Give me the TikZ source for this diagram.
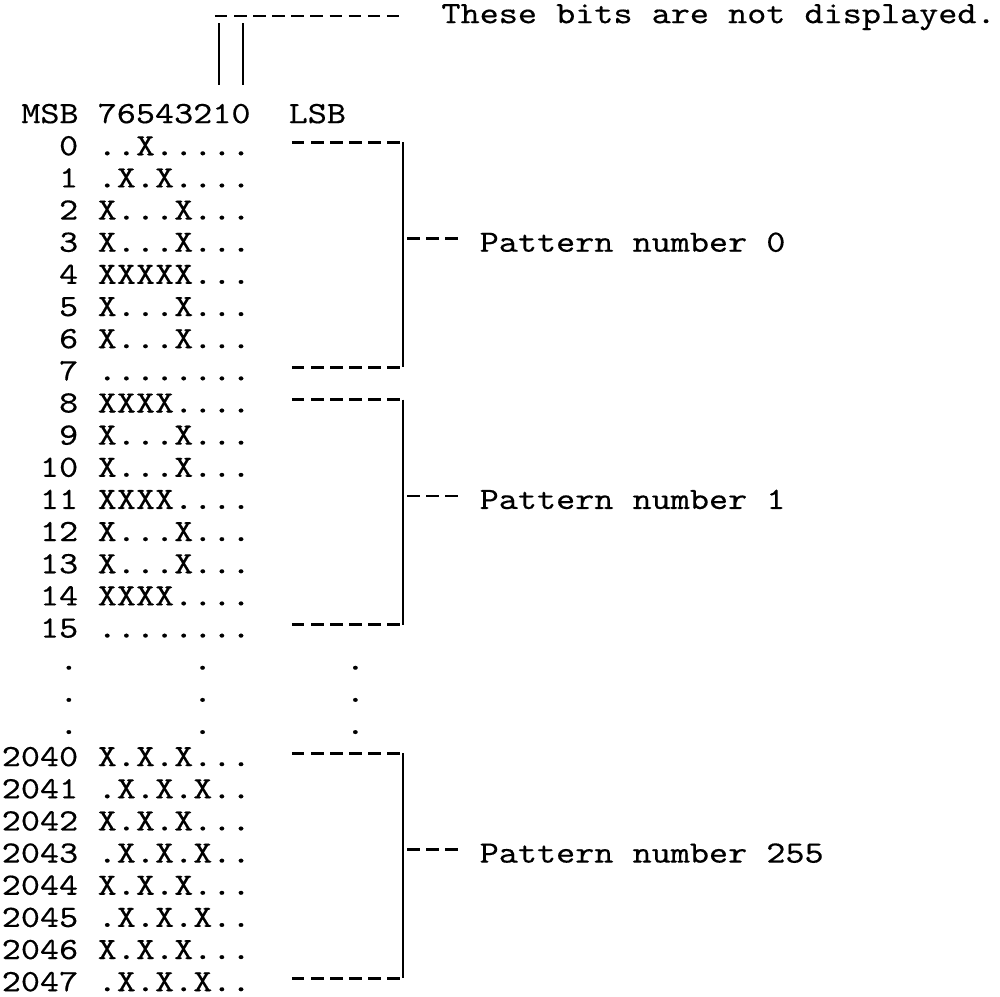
\documentclass[tikz,border=0pt]{standalone}
\usepackage{tikz}
\font\typer="[lmmono10-regular]:extend=1.174;embolden=0.35" at 31pt

\begin{document}
\begin{tikzpicture}[x=19.1pt,y=-32.15pt,
  typed/.style={inner sep=0pt,font=\typer},
  typedash/.style={line width=2.8pt,dash pattern=on 12.5pt off 6.6pt},
  rule/.style={line width=2pt}]
\useasboundingbox (-0.105,-3.83) rectangle (52.25,27.18);
% header line
\node[typed,anchor=base west] (msb) at (1,0) {MSB};
\node[typed,anchor=base west] (bits) at (5,0) {76543210};
\node[typed,anchor=base west] (lsb) at (15,0) {LSB};
% hidden bits 1 and 0
\node[typed,anchor=base west] (note) at (23,-3.11) {These bits are not displayed.};
\coordinate (hide0) at (11.15,-3.33);
\coordinate (hide1) at (20.94,-3.33);
\draw[typedash] (hide0) -- (hide1);
\coordinate (tickA) at (11.36,-3.11);
\coordinate (tickB) at (12.62,-3.11);
\draw[rule] (tickA) -- (tickA |- 0,-1.18);
\draw[rule] (tickB) -- (tickB |- 0,-1.18);
% pattern rows
\foreach \L/\n/\b in {1/0/{..X.....},2/1/{.X.X....},3/2/{X...X...},4/3/{X...X...},
  5/4/{XXXXX...},6/5/{X...X...},7/6/{X...X...},8/7/{........},
  9/8/{XXXX....},10/9/{X...X...},11/10/{X...X...},12/11/{XXXX....},
  13/12/{X...X...},14/13/{X...X...},15/14/{XXXX....},16/15/{........},
  20/2040/{X.X.X...},21/2041/{.X.X.X..},22/2042/{X.X.X...},23/2043/{.X.X.X..},
  24/2044/{X.X.X...},25/2045/{.X.X.X..},26/2046/{X.X.X...},27/2047/{.X.X.X..}} {
  \node[typed,anchor=base east] (n\n) at (4,\L) {\n};
  \node[typed,anchor=base west] (p\n) at (5,\L) {\b};
}
% vertical ellipsis
\foreach \L in {17,18,19} {
  \foreach \c in {3,10,18} {\node[typed,anchor=base] (d\L-\c) at (\c+0.5,\L) {.};}
}
% brackets: first row / middle row / last row / pattern
\foreach \t/\m/\e/\k in {1/4/8/0,9/12/16/1,20/23/27/255} {
  \node[typed,anchor=base west] (pat\k) at (25,\m) {Pattern number \k};
  \coordinate (tl\k) at (15.18,\t-0.4);
  \coordinate (top\k) at (21,\t-0.4);
  \coordinate (mid\k) at (21,\m-0.4);
  \coordinate (bl\k) at (15.18,\e-0.4);
  \coordinate (bot\k) at (21,\e-0.4);
  \draw[typedash] (tl\k) -- (top\k);
  \draw[typedash] (bl\k) -- (bot\k);
  \draw[rule] (top\k) -- (bot\k);
  \draw[typedash,shorten >=19pt] ([xshift=4pt]mid\k) -- (mid\k -| pat\k.west);
}
\end{tikzpicture}
\end{document}
